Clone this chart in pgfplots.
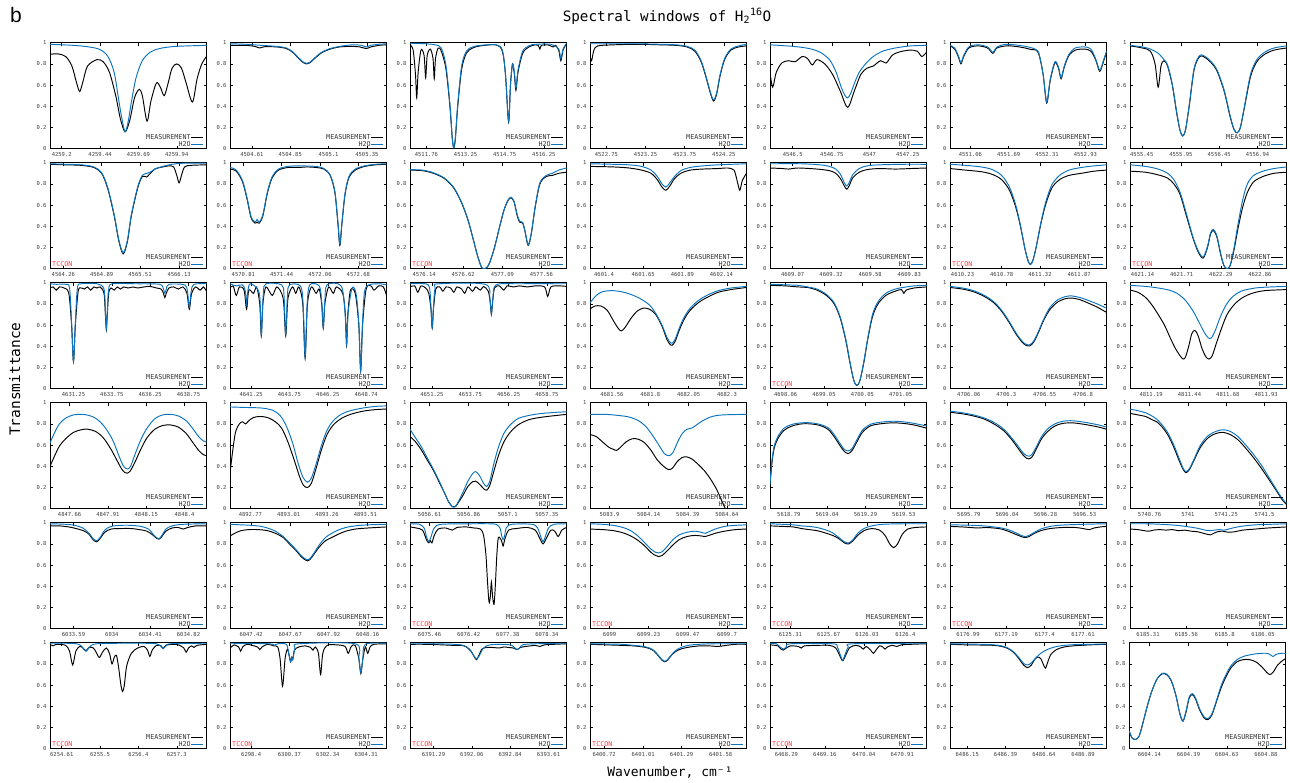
\documentclass[border=0pt]{standalone}
\usepackage{fontspec}
\usepackage{pgfplots}
\pgfplotsset{compat=1.18}
\newfontfamily\mono{DejaVu Sans Mono}
\newfontfamily\bsans{Liberation Sans}
\newcommand\tickfont{\mono\fontsize{5.5}{6}\selectfont}
\newcommand\legfont{\mono\fontsize{6.7}{7}\selectfont}
\newcommand\titlefont{\mono\fontsize{14.3}{16}\selectfont}
\newcommand\labfont{\mono\fontsize{13}{15}\selectfont}
\definecolor{h2oblue}{RGB}{10,116,190}
\definecolor{tcconred}{RGB}{255,60,70}
\pgfplotsset{
 meas/.style={black, line width=0.95pt, smooth, tension=0.5},
 htwo/.style={color=h2oblue, line width=0.95pt, smooth, tension=0.5},
 panel/.style={
  scale only axis, width=156.5pt, height=106pt, anchor=north west,
  xmin=0, xmax=100, ymin=0, ymax=1,
  ytick={0,0.2,0.4,0.6,0.8,1}, yticklabels={0,0.2,0.4,0.6,0.8,1},
  tick align=inside, xtick pos=both, ytick pos=both, major tick length=3pt,
  every tick/.style={black, line width=0.5pt},
  axis line style={line width=1pt, black},
  ticklabel style={font=\tickfont, text=black!75},
  legend style={at={(0.985,0.012)}, anchor=south east, draw=none, fill=none,
   font=\legfont, text=black!80, row sep=1.5pt, inner sep=0pt,
   nodes={inner sep=0.4pt, text depth=0pt}},
  legend cell align=right, legend plot pos=right,
  legend image code/.code={\draw[#1] (0pt,0pt) -- (12pt,0pt);},
 }
}
\newcommand\tccon{\node[anchor=south west, text=tcconred, font=\legfont, inner sep=0pt] at (rel axis cs:0.013,0.022) {TCCON};}
\newcommand{\panel}[7]{%
\begin{axis}[panel, at={(#1pt,-#2pt)}, xtick={#3}, xticklabels={#4}]
\addplot[meas] coordinates {#5};
\addplot[htwo] coordinates {#6};
#7
\legend{MEASUREMENT,H2O}
\end{axis}}
\begin{document}
\begin{tikzpicture}
\path[use as bounding box] (0,0) rectangle (1290pt,-782pt);
\node[font=\bsans\fontsize{21}{24}\selectfont, anchor=base west, inner sep=0pt] at (10pt,-22pt) {b};
\node[font=\titlefont, anchor=base, inner sep=0pt] at (667pt,-21pt) {Spectral windows of H\textsubscript{2}\textsuperscript{16}O};
\node[font=\mono\fontsize{14.5}{16}\selectfont, rotate=90, anchor=base, inner sep=0pt] at (20pt,-379pt) {Transmittance};
\node[font=\labfont, anchor=base, inner sep=0pt] at (670pt,-776pt) {Wavenumber, cm⁻¹};
% ---------------- Row 1
\panel{50}{42.7}{7.5,32,56.5,81}{4259.2,4259.44,4259.69,4259.94}
{(0,0.89)(5,0.895)(10,0.87)(14,0.78)(17,0.62)(19,0.54)(21,0.63)(24,0.78)(30,0.84)(34,0.82)(38,0.72)(42,0.5)(45,0.28)(48,0.16)(51,0.27)(54,0.48)(57,0.56)(59,0.5)(62,0.26)(64.5,0.45)(68,0.62)(70.5,0.58)(73,0.5)(75.5,0.62)(78,0.76)(81,0.8)(84,0.76)(87,0.62)(91,0.44)(94,0.66)(97,0.8)(100,0.87)}
{(0,0.985)(15,0.975)(25,0.96)(32,0.935)(37,0.87)(41,0.72)(44,0.45)(46,0.28)(48,0.16)(50,0.26)(52,0.44)(55,0.67)(59,0.83)(64,0.91)(70,0.945)(80,0.965)(100,0.975)}{}
\panel{230}{42.7}{14,38.5,63,87.5}{4504.61,4504.85,4505.1,4505.35}
{(0,0.975)(10,0.975)(16,0.965)(19,0.95)(22,0.962)(30,0.96)(36,0.945)(40,0.91)(44,0.85)(47,0.81)(49,0.80)(51,0.81)(54,0.85)(58,0.9)(63,0.935)(70,0.96)(78,0.965)(83,0.96)(87,0.945)(90,0.96)(95,0.975)(100,0.98)}
{(0,0.99)(10,0.985)(20,0.975)(30,0.965)(36,0.95)(40,0.915)(44,0.855)(47,0.815)(49,0.805)(51,0.815)(54,0.855)(58,0.905)(63,0.94)(70,0.965)(78,0.98)(84,0.975)(87,0.96)(90,0.975)(95,0.985)(100,0.99)}{}
\panel{410}{42.7}{10.5,35.5,60.5,85.5}{4511.76,4513.25,4514.75,4516.25}
{(0,0.98)(2,0.93)(3.5,0.7)(4.3,0.48)(5.2,0.72)(7,0.93)(9,0.88)(10,0.67)(11,0.88)(13,0.94)(14.7,0.85)(15.5,0.66)(16.3,0.85)(18,0.95)(20,0.92)(23,0.75)(25.5,0.4)(27,0.1)(28,0.01)(29,0.1)(30.5,0.4)(33,0.75)(36,0.9)(40,0.95)(45,0.97)(55,0.98)(59,0.92)(61,0.7)(63,0.25)(64.2,0.6)(65.5,0.8)(66.7,0.7)(67.7,0.55)(69,0.72)(72,0.9)(76,0.96)(80,0.98)(82,0.975)(83,0.94)(84,0.975)(88,0.98)(91.5,0.96)(93,0.975)(95,0.93)(96.4,0.83)(97.8,0.93)(100,0.99)}
{(0,0.995)(10,0.99)(16,0.98)(20,0.95)(23,0.78)(25.5,0.42)(27,0.1)(28,0.01)(29,0.1)(30.5,0.42)(33,0.78)(36,0.92)(40,0.96)(45,0.975)(55,0.98)(59,0.93)(61,0.7)(63,0.26)(64.2,0.6)(65.5,0.8)(66.7,0.72)(67.7,0.57)(69,0.74)(72,0.92)(76,0.97)(80,0.985)(90,0.985)(95,0.94)(96.4,0.85)(97.8,0.94)(100,0.995)}{}
\panel{590}{42.7}{10.5,35.5,60.5,85.5}{4522.75,4523.25,4523.75,4524.25}
{(0,0.88)(1,0.83)(2.5,0.93)(5,0.97)(15,0.98)(30,0.985)(45,0.98)(55,0.975)(62,0.96)(67,0.92)(71,0.82)(74,0.68)(77,0.52)(79,0.45)(81,0.52)(83,0.68)(86,0.84)(90,0.93)(95,0.96)(100,0.97)}
{(0,0.99)(15,0.99)(30,0.99)(45,0.985)(55,0.98)(62,0.965)(67,0.93)(71,0.83)(74,0.69)(77,0.53)(79,0.46)(81,0.53)(83,0.69)(86,0.85)(90,0.94)(95,0.97)(100,0.985)}{}
\panel{770}{42.7}{14.5,39.5,63.5,88}{4546.5,4546.75,4547,4547.25}
{(0,0.72)(1.7,0.58)(4,0.72)(7.6,0.81)(12,0.83)(16,0.82)(20.6,0.87)(24,0.85)(27,0.79)(30,0.84)(35,0.8)(40,0.7)(45,0.54)(49.6,0.39)(54,0.55)(58,0.7)(62,0.76)(66,0.78)(70.6,0.83)(74.3,0.81)(78,0.88)(82,0.91)(89,0.93)(94,0.92)(97,0.87)(100,0.91)}
{(0,0.98)(15,0.965)(25,0.945)(32,0.91)(38,0.84)(42,0.73)(45.5,0.58)(48,0.5)(49.6,0.48)(51.5,0.52)(54,0.62)(57,0.72)(61,0.8)(66,0.87)(72,0.92)(80,0.95)(90,0.97)(100,0.975)}{}
\panel{950}{42.7}{13,37.5,62,86.5}{4551.06,4551.69,4552.31,4552.93}
{(0,0.97)(3,0.94)(5.5,0.86)(7,0.8)(8.5,0.86)(12,0.95)(18,0.97)(24,0.95)(27.4,0.9)(30,0.95)(36,0.97)(42,0.965)(48,0.95)(52,0.935)(55,0.93)(57,0.88)(59.5,0.7)(61.8,0.43)(64,0.64)(67,0.81)(69.3,0.76)(71,0.66)(73,0.77)(76,0.88)(80,0.93)(86,0.94)(90,0.92)(93,0.84)(95.7,0.73)(98,0.82)(100,0.91)}
{(0,0.975)(3,0.95)(5.5,0.87)(7,0.81)(8.5,0.87)(12,0.96)(18,0.98)(24,0.96)(27.4,0.91)(30,0.96)(36,0.985)(44,0.975)(50,0.96)(55,0.935)(57,0.89)(59.5,0.7)(61.8,0.44)(64,0.65)(67,0.82)(69.3,0.77)(71,0.67)(73,0.78)(76,0.89)(80,0.95)(86,0.96)(90,0.94)(93,0.85)(95.7,0.74)(98,0.83)(100,0.92)}{}
\panel{1130}{42.7}{7.5,32.5,57,81.5}{4555.45,4555.95,4556.45,4556.94}
{(0,0.97)(8,0.95)(13,0.92)(16,0.8)(18,0.58)(19.8,0.78)(21.7,0.83)(24,0.78)(27,0.6)(30,0.32)(32,0.17)(33.7,0.12)(35.5,0.18)(38,0.42)(41,0.75)(44.6,0.87)(49,0.85)(55,0.75)(60,0.55)(64,0.3)(66.5,0.18)(68.5,0.15)(70.5,0.2)(73,0.38)(77,0.68)(81,0.82)(86,0.89)(92,0.93)(100,0.95)}
{(0,0.975)(8,0.96)(13,0.94)(18,0.9)(21.7,0.84)(24,0.79)(27,0.61)(30,0.33)(32,0.17)(33.7,0.12)(35.5,0.18)(38,0.43)(41,0.76)(44.6,0.88)(49,0.86)(55,0.76)(60,0.56)(64,0.31)(66.5,0.18)(68.5,0.15)(70.5,0.2)(73,0.39)(77,0.7)(81,0.84)(86,0.91)(92,0.95)(100,0.97)}{}
% ---------------- Row 2
\panel{50}{162.7}{8.5,33,57.5,82.5}{4564.26,4564.89,4565.51,4566.13}
{(0,0.985)(10,0.98)(20,0.975)(28,0.955)(33,0.9)(37,0.75)(41,0.5)(44,0.26)(46.8,0.14)(49.5,0.26)(52,0.5)(56,0.76)(59,0.87)(61.7,0.865)(63.5,0.89)(67,0.94)(72,0.96)(76,0.97)(79,0.96)(81,0.88)(82.5,0.81)(84,0.88)(86,0.96)(90,0.975)(100,0.98)}
{(0,0.99)(10,0.985)(20,0.98)(28,0.96)(33,0.905)(37,0.76)(41,0.51)(44,0.27)(46.8,0.15)(49.5,0.27)(52,0.51)(56,0.77)(59,0.88)(62,0.9)(64,0.91)(67,0.94)(72,0.965)(78,0.985)(85,0.995)(100,0.995)}{\tccon}
\panel{230}{162.7}{8.5,33,57.5,82}{4570.81,4571.44,4572.06,4572.68}
{(0,0.94)(4,0.92)(8,0.82)(11,0.65)(13.5,0.48)(16,0.43)(17.3,0.44)(18.7,0.43)(21,0.5)(24,0.72)(27,0.86)(31,0.93)(37,0.955)(44,0.955)(49,0.96)(55,0.955)(60,0.94)(64,0.88)(67,0.72)(69,0.42)(70.2,0.22)(71.5,0.42)(73.5,0.7)(76,0.86)(80,0.93)(86,0.965)(93,0.98)(100,0.985)}
{(0,0.955)(4,0.93)(8,0.83)(11,0.66)(13.5,0.49)(16,0.44)(17.3,0.465)(18.7,0.44)(21,0.51)(24,0.73)(27,0.87)(31,0.94)(37,0.965)(44,0.97)(55,0.965)(60,0.945)(64,0.885)(67,0.73)(69,0.43)(70.2,0.23)(71.5,0.43)(73.5,0.71)(76,0.87)(80,0.94)(86,0.97)(93,0.985)(100,0.99)}{\tccon}
\panel{410}{162.7}{9,34,59,84}{4576.14,4576.62,4577.09,4577.56}
{(0,0.93)(8,0.925)(15,0.9)(22,0.85)(28,0.76)(33,0.62)(37,0.46)(40,0.3)(43,0.13)(45.5,0.02)(47,0)(49,0.01)(51,0.06)(54,0.2)(57,0.38)(60,0.55)(62.5,0.64)(64.5,0.67)(66.5,0.63)(68.5,0.5)(70,0.44)(72,0.43)(73.5,0.35)(75.5,0.22)(77.5,0.33)(80,0.58)(83,0.8)(87,0.87)(91,0.88)(95,0.9)(100,0.91)}
{(0,0.935)(8,0.93)(15,0.905)(22,0.855)(28,0.765)(33,0.625)(37,0.465)(40,0.3)(43,0.13)(45.5,0.02)(47,0)(49,0.01)(51,0.06)(54,0.2)(57,0.38)(60,0.55)(62.5,0.645)(64.5,0.675)(66.5,0.635)(68.5,0.51)(70,0.45)(72,0.435)(73.5,0.355)(75.5,0.225)(77.5,0.335)(80,0.59)(83,0.81)(87,0.88)(91,0.9)(95,0.93)(100,0.95)}{\tccon}
\panel{590}{162.7}{9,34,59,84}{4601.4,4601.65,4601.89,4602.14}
{(0,0.965)(15,0.96)(25,0.95)(33,0.93)(39,0.9)(43,0.84)(46,0.77)(48.5,0.74)(51,0.78)(54,0.85)(58,0.9)(64,0.93)(72,0.94)(82,0.945)(88,0.95)(92,0.93)(94,0.83)(95.7,0.74)(97.3,0.83)(100,0.9)}
{(0,0.99)(15,0.985)(25,0.98)(33,0.965)(39,0.93)(43,0.87)(46,0.8)(48.5,0.77)(51,0.81)(54,0.87)(58,0.925)(64,0.955)(72,0.97)(82,0.98)(100,0.99)}{}
\panel{770}{162.7}{14.5,39,64,89}{4609.07,4609.32,4609.58,4609.83}
{(0,0.95)(8,0.945)(12,0.94)(18,0.95)(30,0.94)(38,0.925)(42,0.9)(45,0.85)(47.5,0.78)(49,0.75)(50.5,0.78)(53,0.86)(57,0.91)(62,0.935)(70,0.945)(80,0.94)(90,0.945)(100,0.95)}
{(0,0.99)(20,0.99)(32,0.98)(38,0.965)(42,0.94)(45,0.89)(47.5,0.81)(49,0.78)(50.5,0.81)(53,0.89)(57,0.945)(62,0.97)(70,0.98)(85,0.985)(100,0.985)}{}
\panel{950}{162.7}{8,33,57.5,82.5}{4610.23,4610.78,4611.32,4611.87}
{(0,0.945)(10,0.93)(20,0.915)(27,0.89)(33,0.84)(38,0.74)(42,0.58)(45,0.4)(48,0.18)(50,0.07)(51.4,0.04)(53,0.08)(55,0.2)(58,0.42)(61,0.6)(65,0.76)(70,0.84)(76,0.88)(84,0.9)(92,0.92)(100,0.93)}
{(0,0.985)(10,0.975)(20,0.96)(27,0.935)(33,0.88)(38,0.77)(42,0.6)(45,0.41)(48,0.18)(50,0.07)(51.4,0.04)(53,0.08)(55,0.2)(58,0.43)(61,0.62)(65,0.79)(70,0.88)(76,0.93)(84,0.955)(92,0.97)(100,0.98)}{\tccon}
\panel{1130}{162.7}{8,33,58,83}{4621.14,4621.71,4622.29,4622.86}
{(0,0.92)(10,0.91)(18,0.885)(24,0.855)(28,0.8)(32,0.7)(36,0.5)(40,0.3)(43.5,0.16)(46.7,0.1)(49.5,0.2)(51.5,0.33)(53.3,0.36)(55.5,0.3)(58,0.13)(60,0.03)(62,0)(64,0.03)(66.5,0.18)(69,0.38)(72,0.58)(75,0.72)(79,0.82)(85,0.87)(92,0.9)(100,0.91)}
{(0,0.98)(10,0.965)(18,0.94)(24,0.9)(28,0.84)(32,0.72)(36,0.52)(40,0.31)(43.5,0.17)(46.7,0.11)(49.5,0.21)(51.5,0.34)(53.3,0.37)(55.5,0.31)(58,0.14)(60,0.03)(62,0)(64,0.03)(66.5,0.2)(69,0.42)(72,0.65)(75,0.8)(79,0.88)(85,0.92)(92,0.945)(100,0.96)}{\tccon}
% ---------------- Row 3
\panel{50}{282.7}{15,39.5,64,88.5}{4631.25,4633.75,4636.25,4638.75}
{(0,0.95)(2,0.96)(4,0.93)(6,0.96)(9,0.95)(12,0.9)(13.8,0.6)(15,0.255)(16.2,0.6)(18,0.92)(20,0.95)(22,0.94)(24,0.96)(26,0.93)(28,0.96)(30,0.95)(32,0.96)(34.5,0.9)(35.4,0.7)(36,0.56)(36.6,0.7)(37.5,0.9)(39,0.95)(41,0.93)(43,0.96)(45,0.94)(47,0.96)(50,0.95)(53,0.96)(56,0.95)(60,0.96)(64,0.965)(68,0.95)(71,0.94)(72.5,0.9)(73.4,0.86)(74.3,0.9)(76,0.95)(79,0.96)(82,0.94)(85,0.96)(87.5,0.9)(89,0.75)(90.5,0.9)(93,0.96)(96,0.93)(98,0.96)(100,0.92)}
{(0,0.99)(4,0.985)(10,0.985)(12.5,0.95)(13.8,0.62)(15,0.255)(16.2,0.62)(17.5,0.95)(20,0.99)(30,0.99)(34.5,0.94)(35.4,0.72)(36,0.57)(36.6,0.72)(37.5,0.94)(40,0.99)(55,0.99)(70,0.985)(72.5,0.94)(73.4,0.9)(74.3,0.94)(76,0.985)(86,0.98)(87.8,0.92)(89,0.77)(90.2,0.92)(92,0.985)(100,0.99)}{}
\panel{230}{282.7}{13.5,38,62.5,87}{4641.25,4643.75,4646.25,4648.74}
{(0,0.95)(2,0.97)(4,0.88)(6,0.96)(9,0.93)(10.6,0.75)(12,0.93)(15,0.9)(17,0.96)(19,0.8)(20,0.5)(21,0.8)(23,0.96)(27,0.88)(30,0.96)(34,0.85)(35.6,0.5)(37,0.85)(40,0.96)(42,0.9)(44,0.96)(46.5,0.8)(48,0.29)(49.5,0.8)(52,0.96)(55,0.9)(57,0.94)(58.6,0.8)(59.6,0.57)(60.6,0.8)(63,0.96)(66,0.9)(68,0.96)(72,0.9)(73.7,0.7)(74.5,0.41)(75.3,0.7)(77,0.93)(80,0.9)(82.3,0.6)(83.5,0.17)(84.7,0.6)(87,0.94)(90,0.97)(92,0.93)(95,0.97)(98,0.96)(100,0.88)}
{(0,0.99)(4,0.97)(8,0.98)(9.8,0.92)(10.6,0.8)(11.4,0.92)(13,0.99)(18.7,0.9)(20,0.51)(21.3,0.9)(23,0.99)(33,0.98)(34.5,0.88)(35.6,0.51)(36.7,0.88)(38,0.98)(45,0.97)(46.7,0.8)(48,0.3)(49.3,0.8)(51,0.98)(57,0.97)(58.6,0.82)(59.6,0.58)(60.6,0.82)(62,0.98)(71,0.97)(73.5,0.72)(74.5,0.42)(75.5,0.72)(78,0.95)(80.5,0.9)(82.3,0.62)(83.5,0.17)(84.7,0.62)(86,0.92)(89,0.98)(95,0.99)(100,0.98)}{}
\panel{410}{282.7}{14,38.5,63,87.5}{4651.25,4653.75,4656.25,4658.75}
{(0,0.96)(3,0.97)(5,0.91)(7,0.97)(10,0.95)(12,0.9)(13.4,0.75)(14.2,0.57)(15,0.75)(16.5,0.94)(19,0.96)(21,0.92)(23,0.96)(26,0.95)(28,0.91)(30,0.96)(33,0.94)(35,0.9)(37,0.96)(40,0.92)(42,0.96)(45,0.93)(47,0.965)(50,0.92)(51.2,0.82)(52,0.7)(52.8,0.82)(54,0.95)(57,0.97)(60,0.93)(62,0.97)(66,0.96)(70,0.97)(75,0.96)(80,0.97)(86,0.96)(88,0.87)(90,0.96)(95,0.97)(100,0.965)}
{(0,0.99)(10,0.99)(12.5,0.95)(13.4,0.77)(14.2,0.58)(15,0.77)(16,0.95)(18,0.99)(48,0.985)(51,0.85)(52,0.71)(53,0.85)(55,0.98)(70,0.99)(100,0.99)}{}
\panel{590}{282.7}{14,38.5,63,87.5}{4681.56,4681.8,4682.05,4682.3}
{(0,0.75)(3,0.78)(7,0.78)(11,0.74)(15,0.64)(18,0.57)(20,0.545)(22.5,0.58)(26,0.66)(30,0.73)(34,0.76)(38,0.75)(42,0.7)(46,0.59)(49,0.47)(51,0.42)(52.5,0.41)(54.5,0.45)(57,0.55)(60,0.65)(64,0.74)(70,0.82)(76,0.87)(82,0.91)(90,0.935)(100,0.955)}
{(0,0.81)(4,0.88)(8,0.915)(14,0.925)(20,0.915)(26,0.89)(32,0.85)(38,0.79)(42,0.71)(46,0.6)(49,0.49)(51,0.44)(52.5,0.43)(54.5,0.47)(57,0.57)(60,0.67)(64,0.76)(70,0.84)(76,0.89)(82,0.925)(90,0.95)(100,0.965)}{}
\panel{770}{282.7}{10,34.5,59,83.5}{4698.06,4699.05,4700.05,4701.05}
{(0,0.975)(10,0.97)(18,0.96)(24,0.955)(30,0.93)(36,0.88)(41,0.8)(45,0.66)(48.5,0.45)(51,0.25)(53.5,0.08)(55.5,0.03)(57.5,0.08)(60,0.25)(62.5,0.47)(65.5,0.68)(69,0.8)(74,0.88)(80,0.92)(84,0.935)(85.5,0.9)(87,0.93)(92,0.95)(100,0.96)}
{(0,0.985)(10,0.98)(18,0.975)(24,0.96)(30,0.94)(36,0.89)(41,0.81)(45,0.67)(48.5,0.46)(51,0.26)(53.5,0.08)(55.5,0.03)(57.5,0.08)(60,0.26)(62.5,0.48)(65.5,0.7)(69,0.82)(74,0.9)(80,0.94)(85,0.955)(92,0.97)(100,0.975)}{\tccon}
\panel{950}{282.7}{12,36,60.5,85}{4706.06,4706.3,4706.55,4706.8}
{(0,0.955)(8,0.94)(15,0.915)(22,0.87)(28,0.81)(33,0.73)(38,0.62)(42,0.52)(46,0.44)(48.5,0.41)(51,0.405)(53.5,0.44)(56.5,0.53)(60,0.65)(64,0.75)(69,0.82)(74,0.85)(78,0.855)(83,0.84)(88,0.81)(94,0.77)(100,0.72)}
{(0,0.965)(8,0.95)(15,0.925)(22,0.88)(28,0.82)(33,0.74)(38,0.63)(42,0.53)(46,0.45)(48.5,0.42)(51,0.415)(53.5,0.45)(56.5,0.54)(60,0.66)(64,0.77)(69,0.84)(74,0.87)(78,0.875)(83,0.86)(88,0.835)(94,0.8)(100,0.76)}{}
\panel{1130}{282.7}{13.5,38,62.5,87}{4811.19,4811.44,4811.68,4811.93}
{(0,0.93)(5,0.91)(10,0.86)(14,0.79)(18,0.7)(22,0.6)(26,0.47)(29,0.38)(32,0.31)(34,0.28)(35.5,0.3)(37.5,0.4)(39.5,0.52)(41.5,0.55)(43.5,0.5)(46,0.38)(48.5,0.3)(50.5,0.28)(52.5,0.31)(55,0.42)(58,0.55)(62,0.7)(67,0.8)(72,0.86)(78,0.9)(86,0.925)(100,0.935)}
{(0,0.975)(10,0.965)(18,0.95)(25,0.93)(30,0.9)(35,0.84)(40,0.74)(44,0.63)(47.5,0.53)(50,0.48)(52,0.48)(54.5,0.55)(57.5,0.67)(61,0.78)(65,0.86)(71,0.92)(80,0.95)(90,0.96)(100,0.965)}{}
% ---------------- Row 4
\panel{50}{402.7}{12.5,37,61.5,86}{4847.66,4847.91,4848.15,4848.4}
{(0,0.4)(3,0.5)(6,0.59)(10,0.66)(15,0.72)(20,0.745)(24,0.75)(29,0.73)(34,0.67)(39,0.56)(43,0.45)(46,0.37)(48,0.34)(49.5,0.335)(51,0.35)(54,0.43)(58,0.56)(62,0.67)(67,0.75)(72,0.785)(77,0.79)(82,0.77)(87,0.71)(91,0.63)(95,0.55)(98,0.51)(100,0.5)}
{(0,0.62)(3,0.72)(6,0.8)(10,0.855)(15,0.885)(20,0.89)(25,0.88)(30,0.845)(35,0.77)(40,0.65)(44,0.5)(47,0.4)(49.5,0.375)(51.5,0.4)(54,0.5)(58,0.65)(62,0.76)(67,0.85)(72,0.885)(77,0.89)(82,0.875)(87,0.83)(91,0.76)(95,0.68)(98,0.64)(100,0.63)}{}
\panel{230}{402.7}{13,37.5,62,86.5}{4892.77,4893.01,4893.26,4893.51}
{(0,0.33)(1.5,0.52)(3.5,0.72)(6,0.8)(8,0.82)(10,0.8)(12,0.83)(15,0.86)(19,0.87)(24,0.86)(29,0.82)(33,0.76)(37,0.63)(41,0.46)(44.5,0.3)(47,0.22)(49.5,0.2)(52,0.24)(55,0.38)(58.5,0.56)(62,0.7)(66,0.79)(71,0.85)(77,0.89)(85,0.92)(93,0.935)(100,0.94)}
{(0,0.96)(10,0.955)(20,0.95)(27,0.93)(32,0.88)(36,0.78)(40,0.62)(43.5,0.43)(46.5,0.3)(49.5,0.25)(52,0.29)(55,0.42)(58.5,0.6)(62,0.74)(66,0.83)(71,0.89)(77,0.925)(85,0.95)(93,0.965)(100,0.97)}{}
\panel{410}{402.7}{12.5,37.5,62.5,87.5}{5056.61,5056.86,5057.1,5057.35}
{(0,0.68)(3,0.64)(7,0.56)(11,0.46)(15,0.36)(19,0.24)(22,0.15)(24.5,0.07)(27,0.02)(29,0.02)(31,0.06)(34,0.13)(37,0.21)(40,0.255)(42,0.26)(44.5,0.23)(47,0.19)(49,0.175)(51,0.22)(53.5,0.35)(56.5,0.5)(60,0.63)(64,0.72)(69,0.79)(76,0.84)(85,0.865)(100,0.89)}
{(0,0.75)(3,0.68)(7,0.59)(11,0.48)(15,0.37)(19,0.25)(22,0.15)(24.5,0.07)(27,0.02)(29,0.02)(31,0.07)(34,0.16)(37,0.26)(40,0.33)(42,0.35)(44.5,0.31)(47,0.24)(49,0.21)(51,0.26)(53.5,0.42)(56.5,0.58)(60,0.71)(64,0.79)(69,0.85)(76,0.88)(85,0.9)(100,0.915)}{}
\panel{590}{402.7}{12.5,37.5,62.5,87.5}{5083.9,5084.14,5084.39,5084.64}
{(0,0.7)(4,0.68)(8,0.63)(12,0.58)(15,0.56)(17,0.55)(19.5,0.58)(23,0.63)(27,0.66)(31,0.655)(35,0.62)(39,0.55)(43,0.46)(47,0.4)(50,0.37)(52.5,0.38)(55.5,0.44)(58.5,0.48)(61.5,0.49)(65,0.47)(69,0.42)(73,0.36)(77,0.28)(81,0.18)(84,0.08)(86.5,0)(89,-0.1)(100,-0.3)}
{(0,0.89)(10,0.89)(18,0.88)(25,0.865)(31,0.83)(36,0.77)(40,0.69)(44,0.6)(47.5,0.52)(50.5,0.5)(53,0.53)(56,0.63)(59,0.71)(62,0.75)(65,0.76)(68,0.79)(72,0.83)(78,0.87)(85,0.885)(100,0.89)}{}
\panel{770}{402.7}{12,36.5,61,85.5}{5618.79,5619.04,5619.29,5619.53}
{(0,0.22)(1,0.4)(2.5,0.56)(5,0.66)(9,0.74)(14,0.78)(20,0.8)(26,0.8)(32,0.785)(37,0.75)(41,0.68)(44.5,0.6)(47.5,0.54)(50,0.52)(52.5,0.55)(55.5,0.63)(59,0.72)(64,0.78)(70,0.8)(78,0.81)(85,0.805)(92,0.79)(100,0.76)}
{(0,0.23)(1,0.42)(2.5,0.58)(5,0.68)(9,0.76)(14,0.795)(20,0.81)(26,0.81)(32,0.795)(37,0.765)(41,0.7)(44.5,0.62)(47.5,0.56)(50,0.545)(52.5,0.57)(55.5,0.65)(59,0.74)(64,0.795)(70,0.815)(78,0.825)(85,0.82)(92,0.805)(100,0.78)}{}
\panel{950}{402.7}{12,36.5,61,86}{5695.79,5696.04,5696.28,5696.53}
{(0,0.91)(8,0.895)(15,0.875)(22,0.845)(28,0.8)(34,0.74)(39,0.66)(43,0.58)(46.5,0.51)(49,0.475)(50.5,0.47)(52.5,0.49)(55,0.56)(58.5,0.66)(62.5,0.73)(67,0.78)(72,0.805)(78,0.81)(84,0.8)(90,0.785)(95,0.77)(100,0.75)}
{(0,0.92)(8,0.905)(15,0.885)(22,0.855)(28,0.815)(34,0.755)(39,0.675)(43,0.6)(46.5,0.53)(49,0.5)(50.5,0.495)(52.5,0.515)(55,0.58)(58.5,0.68)(62.5,0.755)(67,0.8)(72,0.825)(78,0.83)(84,0.82)(90,0.805)(95,0.79)(100,0.77)}{}
\panel{1130}{402.7}{12.5,37,61.5,86}{5740.76,5741,5741.25,5741.5}
{(0,0.9)(5,0.885)(10,0.87)(14,0.84)(17,0.82)(20,0.78)(24,0.7)(28,0.58)(31.5,0.45)(34,0.37)(35.8,0.34)(38,0.37)(41,0.46)(45,0.58)(50,0.67)(55,0.71)(59.5,0.72)(64,0.7)(69,0.65)(74,0.57)(79,0.48)(84,0.38)(89,0.27)(94,0.16)(97,0.09)(100,0.04)}
{(0,0.94)(5,0.925)(10,0.905)(14,0.875)(17,0.845)(20,0.8)(24,0.72)(28,0.6)(31.5,0.47)(34,0.38)(35.8,0.35)(38,0.38)(41,0.47)(45,0.6)(50,0.69)(55,0.73)(59.5,0.745)(64,0.73)(69,0.68)(74,0.6)(79,0.51)(84,0.41)(89,0.29)(94,0.17)(97,0.1)(100,0.05)}{}
% ---------------- Row 5
\panel{50}{522.7}{15,39.5,64,88.5}{6033.59,6034,6034.41,6034.82}
{(0,0.97)(6,0.97)(12,0.96)(18,0.94)(22,0.92)(25,0.89)(27.5,0.84)(29.8,0.82)(32,0.85)(35,0.91)(39,0.94)(45,0.945)(52,0.945)(57,0.935)(62,0.92)(66,0.88)(68.3,0.85)(69.7,0.845)(71.5,0.87)(74,0.92)(78,0.95)(82,0.955)(85,0.94)(88,0.955)(93,0.97)(100,0.97)}
{(0,0.99)(10,0.985)(16,0.975)(21,0.95)(25,0.9)(27.5,0.85)(29.8,0.83)(32,0.86)(35,0.93)(39,0.965)(45,0.975)(52,0.975)(58,0.965)(63,0.94)(66.5,0.88)(68.5,0.855)(69.7,0.85)(71.5,0.88)(74,0.94)(78,0.97)(85,0.985)(100,0.99)}{}
\panel{230}{522.7}{13.5,38.5,63,88}{6047.42,6047.67,6047.92,6048.16}
{(0,0.875)(3,0.9)(7,0.925)(12,0.935)(18,0.935)(24,0.925)(29,0.9)(34,0.86)(38,0.8)(42,0.74)(45.5,0.68)(48,0.65)(49.5,0.64)(51,0.65)(53.5,0.7)(57,0.77)(61,0.83)(65,0.86)(69,0.89)(74,0.92)(80,0.94)(88,0.95)(100,0.96)}
{(0,0.985)(7,0.98)(14,0.975)(20,0.965)(25,0.945)(29,0.92)(34,0.87)(38,0.81)(42,0.75)(45.5,0.69)(48,0.66)(49.5,0.65)(51,0.66)(53.5,0.71)(57,0.79)(61,0.86)(65,0.9)(69,0.93)(74,0.955)(80,0.97)(88,0.98)(100,0.985)}{}
\panel{410}{522.7}{12.5,37.5,62.5,87.5}{6075.46,6076.42,6077.38,6078.34}
{(0,0.96)(4,0.95)(8,0.93)(10.5,0.84)(12,0.81)(13,0.83)(14,0.81)(15.5,0.88)(18,0.94)(23,0.95)(27,0.93)(30,0.955)(36,0.96)(41,0.95)(45,0.94)(47,0.88)(48.5,0.7)(49.5,0.45)(50.5,0.25)(51.3,0.3)(52,0.44)(52.8,0.3)(53.7,0.23)(54.5,0.4)(55.5,0.7)(56.5,0.86)(58.5,0.83)(59.5,0.78)(60.5,0.84)(63,0.93)(68,0.945)(75,0.955)(80,0.93)(83,0.85)(85,0.8)(87,0.85)(90,0.93)(92.5,0.92)(94.7,0.87)(97,0.93)(100,0.955)}
{(0,0.99)(6,0.985)(9,0.95)(10.5,0.87)(12,0.82)(13.5,0.87)(15.5,0.95)(20,0.985)(40,0.99)(50,0.99)(55,0.985)(57.5,0.95)(58.5,0.88)(59.5,0.84)(60.5,0.88)(61.5,0.95)(65,0.985)(78,0.985)(81.5,0.95)(83.5,0.87)(85,0.82)(86.5,0.87)(88.5,0.95)(92,0.985)(100,0.99)}{\tccon}
\panel{590}{522.7}{12.5,37.5,62.5,87.5}{6099,6099.23,6099.47,6099.7}
{(0,0.94)(8,0.935)(15,0.925)(21,0.905)(26,0.875)(31,0.83)(35,0.78)(39,0.72)(42,0.69)(44,0.68)(46,0.69)(49,0.73)(53,0.79)(57,0.84)(62,0.87)(67,0.88)(71,0.875)(73.7,0.87)(76,0.88)(80,0.9)(86,0.92)(93,0.935)(100,0.94)}
{(0,0.99)(8,0.985)(15,0.975)(21,0.955)(26,0.925)(31,0.87)(35,0.81)(39,0.75)(42,0.72)(44,0.715)(46,0.725)(49,0.77)(53,0.84)(57,0.885)(62,0.91)(67,0.92)(71,0.91)(73.7,0.9)(76,0.915)(80,0.94)(86,0.965)(93,0.975)(100,0.98)}{\tccon}
\panel{770}{522.7}{13,37.5,62,86.5}{6125.31,6125.67,6126.03,6126.4}
{(0,0.97)(8,0.965)(15,0.96)(20,0.945)(25,0.935)(30,0.925)(35,0.905)(40,0.88)(44,0.85)(47.5,0.81)(50.3,0.8)(53,0.83)(56,0.88)(60,0.925)(65,0.945)(70,0.93)(73.5,0.88)(76.5,0.8)(79,0.765)(81.5,0.8)(84.5,0.89)(88,0.94)(93,0.955)(100,0.96)}
{(0,0.99)(8,0.985)(15,0.98)(20,0.97)(25,0.965)(30,0.955)(35,0.935)(40,0.905)(44,0.86)(47.5,0.82)(50.3,0.81)(53,0.84)(56,0.9)(60,0.945)(65,0.97)(72,0.985)(85,0.99)(100,0.99)}{\tccon}
\panel{950}{522.7}{11.5,36,60.5,85}{6176.99,6177.19,6177.4,6177.61}
{(0,0.965)(8,0.96)(13,0.955)(18,0.95)(23,0.955)(28,0.95)(33,0.94)(38,0.915)(42,0.89)(45.5,0.87)(48,0.86)(50.5,0.87)(54,0.9)(58,0.925)(64,0.945)(72,0.955)(80,0.955)(85,0.945)(89,0.935)(92,0.95)(96,0.96)(100,0.965)}
{(0,0.98)(8,0.978)(15,0.975)(22,0.97)(28,0.96)(33,0.95)(38,0.93)(42,0.905)(45.5,0.88)(48,0.87)(50.5,0.88)(54,0.91)(58,0.94)(64,0.965)(72,0.978)(85,0.985)(100,0.99)}{\tccon}
\panel{1130}{522.7}{11.5,36,60.5,85}{6185.31,6185.56,6185.8,6186.05}
{(0,0.94)(5,0.935)(9,0.925)(12,0.92)(15,0.93)(19,0.935)(23,0.93)(27,0.935)(31,0.925)(35,0.93)(39,0.92)(43,0.915)(47,0.9)(49.5,0.89)(51.5,0.885)(53.5,0.9)(56,0.915)(59,0.92)(63,0.91)(67,0.915)(72,0.93)(80,0.94)(88,0.95)(100,0.96)}
{(0,0.99)(10,0.99)(20,0.985)(30,0.975)(38,0.96)(44,0.945)(48,0.93)(51.5,0.925)(54,0.93)(57,0.935)(60,0.93)(63,0.94)(67,0.955)(73,0.97)(80,0.98)(90,0.985)(100,0.99)}{}
% ---------------- Row 6
\panel{50}{642.7}{7.5,32,56.5,81}{6254.61,6255.5,6256.4,6257.3}
{(0,0.985)(2,0.97)(4,0.985)(10,0.975)(12.5,0.92)(14.5,0.79)(16.5,0.92)(19,0.965)(21,0.95)(23,0.925)(25,0.955)(27.7,0.95)(29.5,0.91)(31.5,0.86)(33.5,0.91)(36,0.95)(38,0.9)(39.6,0.8)(41,0.86)(42.5,0.88)(44,0.75)(45.3,0.6)(46.4,0.54)(47.5,0.6)(49,0.78)(52,0.9)(56,0.95)(60,0.965)(62.3,0.93)(63.8,0.87)(65.3,0.93)(68,0.975)(71,0.97)(72.3,0.945)(74,0.975)(78,0.985)(82,0.98)(85.5,0.95)(87,0.91)(88.5,0.95)(90.5,0.97)(92,0.955)(94,0.975)(100,0.985)}
{(0,0.995)(10,0.995)(17,0.99)(20,0.97)(23,0.92)(26,0.97)(30,0.99)(45,0.995)(60,0.995)(68,0.99)(70.5,0.97)(72.3,0.945)(74.2,0.97)(77,0.99)(100,0.995)}{\tccon}
\panel{230}{642.7}{13.5,38,62.5,87}{6298.4,6300.37,6302.34,6304.31}
{(0,0.98)(1,0.96)(2.5,0.98)(5.5,0.96)(6.8,0.92)(8.1,0.96)(11,0.985)(17.5,0.96)(19,0.935)(20.5,0.96)(24,0.985)(28,0.97)(30.5,0.96)(32,0.85)(33.6,0.59)(35.2,0.85)(36.7,0.94)(37.8,0.88)(38.7,0.82)(39.4,0.86)(40,0.84)(41.2,0.93)(44,0.96)(48,0.97)(51.5,0.955)(53,0.93)(54.5,0.96)(56.5,0.9)(57.9,0.7)(59.3,0.9)(62,0.975)(68,0.98)(73.5,0.965)(75.5,0.9)(77.5,0.965)(80,0.975)(82.3,0.85)(83.6,0.71)(84.9,0.85)(86.5,0.96)(88,0.9)(89.5,0.96)(92,0.985)(100,0.99)}
{(0,0.995)(25,0.99)(28,0.975)(30.5,0.99)(36,0.985)(37.5,0.9)(38.7,0.82)(39.4,0.86)(40.2,0.84)(41.5,0.95)(44,0.99)(80,0.99)(82.3,0.85)(83.6,0.72)(84.9,0.85)(86.5,0.985)(100,0.995)}{\tccon}
\panel{410}{642.7}{15,39.5,64,88.5}{6391.29,6392.06,6392.84,6393.61}
{(0,0.985)(10,0.985)(20,0.98)(28,0.975)(33,0.975)(36,0.96)(39,0.92)(41,0.87)(42.5,0.84)(44,0.88)(46,0.94)(49,0.955)(53,0.955)(57,0.95)(60,0.96)(63,0.955)(66,0.95)(68.5,0.935)(70.5,0.955)(74,0.965)(77,0.97)(80,0.975)(83,0.965)(86,0.98)(92,0.985)(100,0.99)}
{(0,0.99)(15,0.99)(28,0.985)(34,0.975)(38,0.94)(41,0.87)(42.5,0.85)(44,0.87)(47,0.95)(51,0.98)(60,0.985)(65,0.975)(67,0.95)(68.5,0.935)(70,0.95)(72,0.98)(80,0.99)(100,0.99)}{\tccon}
\panel{590}{642.7}{9,34,58.5,83.5}{6400.72,6401.01,6401.29,6401.58}
{(0,0.985)(10,0.98)(20,0.975)(28,0.97)(34,0.96)(38,0.945)(41,0.92)(44,0.87)(46,0.835)(47.7,0.82)(49.5,0.835)(52,0.88)(55,0.92)(59,0.945)(64,0.96)(70,0.97)(76,0.97)(82,0.965)(87,0.975)(93,0.985)(100,0.985)}
{(0,0.99)(10,0.988)(20,0.985)(28,0.975)(34,0.965)(38,0.95)(41,0.925)(44,0.875)(46,0.84)(47.7,0.825)(49.5,0.84)(52,0.885)(55,0.93)(59,0.96)(64,0.978)(70,0.985)(80,0.99)(100,0.99)}{\tccon}
\panel{770}{642.7}{10.5,35,60,84.5}{6468.29,6469.16,6470.04,6470.91}
{(0,0.98)(5,0.97)(7,0.94)(8.5,0.93)(10,0.945)(13,0.97)(18,0.965)(20,0.95)(22,0.97)(30,0.975)(38,0.975)(42,0.95)(44.5,0.88)(46.4,0.83)(48.3,0.88)(51,0.955)(55,0.975)(58,0.96)(59.6,0.94)(61.5,0.965)(64.3,0.93)(66,0.9)(67.7,0.93)(70,0.97)(72,0.96)(73.5,0.94)(75,0.96)(78,0.975)(81,0.965)(84,0.98)(90,0.985)(100,0.99)}
{(0,0.995)(4,0.99)(6.5,0.96)(8.5,0.94)(10.5,0.96)(13,0.99)(40,0.99)(43,0.96)(44.8,0.89)(46.4,0.835)(48,0.89)(50,0.96)(53,0.99)(100,0.995)}{\tccon}
\panel{950}{642.7}{11,35.5,60,85}{6486.15,6486.39,6486.64,6486.89}
{(0,0.985)(10,0.98)(20,0.978)(28,0.975)(33,0.965)(37,0.945)(40.5,0.91)(44,0.85)(47,0.79)(49.6,0.765)(52,0.79)(54,0.84)(56,0.865)(58,0.85)(59.5,0.8)(61,0.76)(62.5,0.82)(64.5,0.89)(68,0.935)(73,0.96)(80,0.972)(90,0.98)(100,0.985)}
{(0,0.99)(10,0.988)(20,0.985)(28,0.98)(33,0.97)(37,0.95)(40.5,0.915)(44,0.86)(47,0.805)(49.6,0.79)(52,0.81)(55,0.86)(58,0.9)(62,0.935)(67,0.96)(73,0.975)(80,0.982)(90,0.985)(100,0.988)}{}
\panel{1129}{642.7}{13,38,62.5,87.5}{6604.14,6604.39,6604.63,6604.88}
{(0,0.17)(2,0.1)(4.2,0.088)(6.5,0.12)(9,0.25)(12,0.42)(15,0.56)(18,0.66)(21,0.705)(24,0.7)(27,0.64)(30,0.5)(32.5,0.33)(34.5,0.26)(36.5,0.35)(38.5,0.48)(40.5,0.51)(42.5,0.47)(45,0.37)(48,0.29)(50.5,0.275)(53,0.32)(56,0.45)(59,0.58)(62,0.68)(65,0.76)(69,0.82)(73,0.84)(77,0.84)(81,0.82)(85,0.77)(88,0.72)(89.9,0.7)(92,0.72)(95,0.79)(98,0.83)(100,0.85)}
{(0,0.17)(2,0.1)(4.2,0.088)(6.5,0.12)(9,0.25)(12,0.42)(15,0.56)(18,0.66)(21,0.71)(24,0.705)(27,0.645)(30,0.5)(32.5,0.33)(34.5,0.26)(36.5,0.36)(38.5,0.49)(40.5,0.52)(42.5,0.48)(45,0.38)(48,0.3)(50.5,0.285)(53,0.33)(56,0.46)(59,0.6)(62,0.7)(65,0.78)(69,0.84)(73,0.87)(77,0.885)(81,0.895)(85,0.9)(88,0.9)(90,0.89)(92,0.87)(94,0.89)(97,0.9)(100,0.9)}{}
\end{tikzpicture}
\end{document}
